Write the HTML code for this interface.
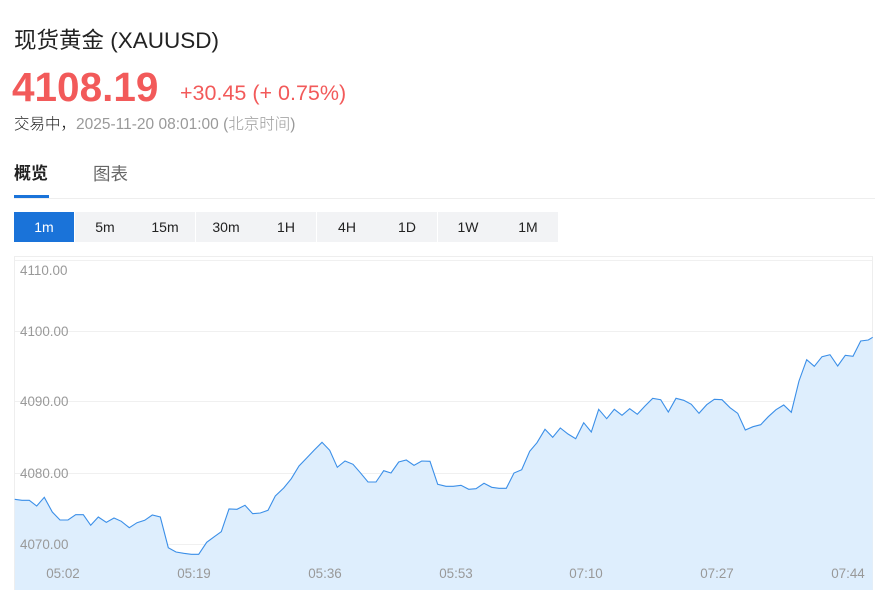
<!DOCTYPE html>
<html><head><meta charset="utf-8"><style>
body{margin:0;width:875px;height:590px;overflow:hidden;background:#fff;font-family:"Liberation Sans","Noto Sans CJK SC",sans-serif;position:relative}
.a{position:absolute;white-space:nowrap}
.btn{position:absolute;top:212px;height:30px;width:60px;background:#f2f3f5;color:#222;font-size:14px;line-height:30px;text-align:center}
</style></head><body>
<div class="a" style="left:14px;top:27px;font-size:22.5px;color:#222;line-height:28px">现货黄金 (XAUUSD)</div>
<div class="a" style="left:12px;top:64px;font-size:40.5px;font-weight:bold;color:#f25a5a;line-height:46px">4108.19</div>
<div class="a" style="left:180px;top:80px;font-size:21.5px;color:#f25a5a;line-height:26px">+30.45 (+ 0.75%)</div>
<div class="a" style="left:14px;top:115px;font-size:15.5px;line-height:19px;color:#222;font-weight:300">交易中，<span style="color:#999">2025-11-20 08:01:00 (北京时间)</span></div>
<div class="a" style="left:14px;top:163px;font-size:17px;font-weight:bold;color:#222;line-height:22px">概览</div>
<div class="a" style="left:93px;top:163px;font-size:17.5px;color:#666;line-height:22px">图表</div>
<div class="a" style="left:14px;top:195px;width:35px;height:3px;background:#1a73d9"></div>
<div class="a" style="left:14px;top:198px;width:861px;height:1px;background:#eee"></div>
<div class="btn" style="left:14px;background:#1a73d9;color:#fff">1m</div>
<div class="btn" style="left:75px">5m</div>
<div class="btn" style="left:135px">15m</div>
<div class="btn" style="left:196px">30m</div>
<div class="btn" style="left:256px">1H</div>
<div class="btn" style="left:317px">4H</div>
<div class="btn" style="left:377px">1D</div>
<div class="btn" style="left:438px">1W</div>
<div class="btn" style="left:498px;width:60px">1M</div>
<svg class="a" style="left:0;top:0" width="875" height="590">
<rect x="14.5" y="256.5" width="858" height="340" fill="none" stroke="#eee"/>
<g stroke="#f0f0f0" stroke-width="1">
<line x1="15" x2="872" y1="260.5" y2="260.5"/>
<line x1="15" x2="872" y1="331.5" y2="331.5"/>
<line x1="15" x2="872" y1="401.5" y2="401.5"/>
<line x1="15" x2="872" y1="473.5" y2="473.5"/>
<line x1="15" x2="872" y1="544.5" y2="544.5"/>
</g>
<polygon fill="#deeefd" points="15,590 14.7,499.3 22,500.3 29.3,500.3 36.7,506 44.3,497.3 52.3,512 60,520 68,520 75.7,514.7 83.3,514.7 90.7,525.3 98.3,517 106.3,522.3 114,518 121.3,521.3 129.3,527.7 137,522.7 144.7,520.3 152.3,515 160.3,517 168.3,547.7 176,552 183.7,553.3 191.3,554.3 198.7,554.3 206.7,542.3 214.3,536.7 221.3,531.7 229,509 237,509.3 245,505.3 252.7,513.7 260.3,513 268,510.3 275.3,496 283.7,488 291.3,478.7 299,466 306.7,458 314.3,450 322,442.3 329.7,450.3 337.3,467.3 345,461 353,464.3 360.3,472.7 368,482 376,482 383.7,470.7 391,473 398.7,462 406.3,460 414,465.3 421.7,461 430,461.3 437.7,484.3 446,486.3 453.3,486.3 461,485.3 468.7,489.3 476,488.7 484,483.3 491.7,487.3 499,488.3 506.3,488.3 514,473 521.7,469.7 529.7,451.3 537,442.7 545,429.3 552.7,437.3 560.3,428 568,434 575.7,438.7 583.7,422.7 591.3,432 598.7,409.3 606.7,418.7 614.3,409.3 622,415.3 629.7,408.7 637.3,414.3 645,406 652.7,398.3 660.7,399.7 668.3,412 676,398.3 683.7,400.3 691.3,404.3 699,413.3 706.7,404.7 714.3,399.3 722,399.7 730,407.7 737.7,413.3 745.3,430 753,426.7 760.7,424.7 768.3,416.7 776,409.7 783.7,405 791.3,412.3 799,381 806.7,359.7 814.3,366.3 822,356.7 830,354.7 837.7,366 845.3,355.3 853,356.3 860.7,341 868.3,340 872.7,337.3 872.7,590"/>
<polyline fill="none" stroke="#3b8fe8" stroke-width="1.1" points="14.7,499.3 22,500.3 29.3,500.3 36.7,506 44.3,497.3 52.3,512 60,520 68,520 75.7,514.7 83.3,514.7 90.7,525.3 98.3,517 106.3,522.3 114,518 121.3,521.3 129.3,527.7 137,522.7 144.7,520.3 152.3,515 160.3,517 168.3,547.7 176,552 183.7,553.3 191.3,554.3 198.7,554.3 206.7,542.3 214.3,536.7 221.3,531.7 229,509 237,509.3 245,505.3 252.7,513.7 260.3,513 268,510.3 275.3,496 283.7,488 291.3,478.7 299,466 306.7,458 314.3,450 322,442.3 329.7,450.3 337.3,467.3 345,461 353,464.3 360.3,472.7 368,482 376,482 383.7,470.7 391,473 398.7,462 406.3,460 414,465.3 421.7,461 430,461.3 437.7,484.3 446,486.3 453.3,486.3 461,485.3 468.7,489.3 476,488.7 484,483.3 491.7,487.3 499,488.3 506.3,488.3 514,473 521.7,469.7 529.7,451.3 537,442.7 545,429.3 552.7,437.3 560.3,428 568,434 575.7,438.7 583.7,422.7 591.3,432 598.7,409.3 606.7,418.7 614.3,409.3 622,415.3 629.7,408.7 637.3,414.3 645,406 652.7,398.3 660.7,399.7 668.3,412 676,398.3 683.7,400.3 691.3,404.3 699,413.3 706.7,404.7 714.3,399.3 722,399.7 730,407.7 737.7,413.3 745.3,430 753,426.7 760.7,424.7 768.3,416.7 776,409.7 783.7,405 791.3,412.3 799,381 806.7,359.7 814.3,366.3 822,356.7 830,354.7 837.7,366 845.3,355.3 853,356.3 860.7,341 868.3,340 872.7,337.3"/>
<g font-family="Liberation Sans, sans-serif" font-size="13.4" fill="#999">
<text x="20" y="275">4110.00</text>
<text x="20" y="336">4100.00</text>
<text x="20" y="406">4090.00</text>
<text x="20" y="478">4080.00</text>
<text x="20" y="549">4070.00</text>
<g text-anchor="middle">
<text x="63" y="578">05:02</text>
<text x="194" y="578">05:19</text>
<text x="325" y="578">05:36</text>
<text x="456" y="578">05:53</text>
<text x="586" y="578">07:10</text>
<text x="717" y="578">07:27</text>
<text x="848" y="578">07:44</text>
</g></g>
</svg>
</body></html>
